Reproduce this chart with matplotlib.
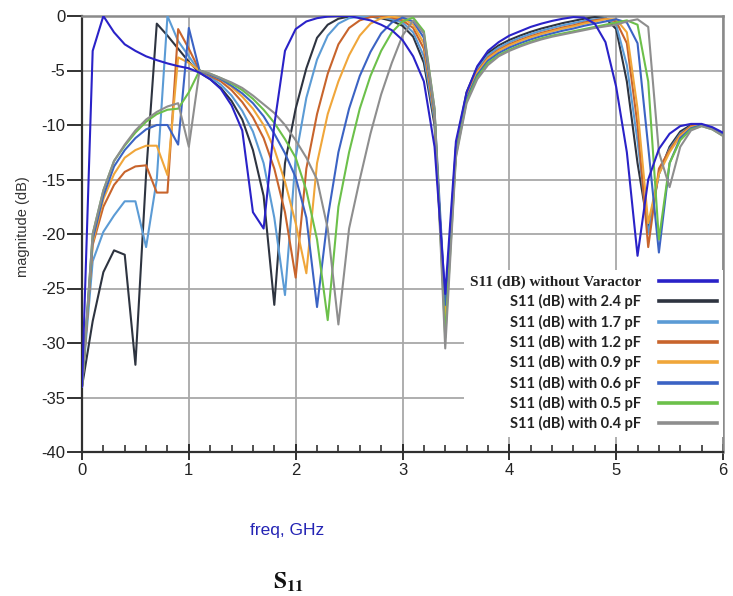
import numpy as np
import matplotlib
matplotlib.use("Agg")
import matplotlib.pyplot as plt
from matplotlib.ticker import MultipleLocator
from matplotlib.font_manager import FontProperties

plt.rcParams['axes.unicode_minus'] = False
plt.rcParams['mathtext.fontset'] = 'stix'
plt.rcParams['font.family'] = ['Liberation Sans', 'DejaVu Sans']

# frequency grid (GHz), 0.1 GHz simulation step
freq = np.round(np.linspace(0, 6, 61), 1)

s11_no_varactor = [
    -34.0, -3.2, 0.0, -1.5, -2.6, -3.2, -3.7, -4.05, -4.35, -4.6,
    -4.8, -5.2, -5.8, -6.7, -8.2, -10.5, -18.0, -19.5, -10.0, -3.2,
    -1.2, -0.5, -0.2, -0.05, 0.0, 0.0, -0.2, -0.4, -0.8, -1.3,
    -2.2, -3.7, -6.0, -12.0, -25.5, -11.5, -7.0, -4.6, -3.2, -2.4,
    -1.8, -1.4, -1.0, -0.7, -0.45, -0.25, -0.1, -0.15, -0.7, -2.4,
    -6.5, -12.5, -22.0, -15.0, -12.2, -10.8, -10.1, -9.9, -9.9, -10.2,
    -10.7]
s11_2p4 = [
    -34.0, -28.0, -23.5, -21.5, -21.9, -32.0, -14.5, -0.7, -1.8, -3.0,
    -4.2, -5.2, -5.8, -6.6, -7.8, -9.5, -12.3, -16.5, -26.5, -13.5,
    -8.5, -4.8, -2.0, -0.8, -0.25, -0.05, 0.0, -0.05, -0.2, -0.45,
    -0.9, -1.9, -4.3, -10.0, -27.0, -12.0, -7.0, -4.7, -3.4, -2.7,
    -2.2, -1.8, -1.45, -1.15, -0.9, -0.65, -0.45, -0.25, -0.1, -0.2,
    -1.2, -6.0, -13.5, -19.5, -14.5, -12.0, -10.6, -10.0, -10.0, -10.3,
    -10.9]
s11_1p7 = [
    -34.0, -22.5, -19.8, -18.3, -17.0, -17.0, -21.2, -15.0, 0.0, -2.3,
    -3.7, -5.1, -5.6, -6.3, -7.3, -8.7, -10.6, -13.5, -18.5, -25.6,
    -13.0, -7.5, -4.0, -1.8, -0.7, -0.2, -0.05, 0.0, -0.1, -0.3,
    -0.6, -1.5, -3.7, -9.6, -27.5, -12.2, -7.2, -4.9, -3.6, -2.9,
    -2.4, -2.0, -1.65, -1.35, -1.1, -0.85, -0.65, -0.45, -0.3, -0.2,
    -0.8, -4.5, -11.5, -20.0, -14.5, -12.2, -10.8, -10.1, -10.0, -10.3,
    -10.9]
s11_1p2 = [
    -34.0, -21.0, -17.5, -15.5, -14.3, -13.8, -13.7, -16.2, -16.2, -1.2,
    -3.0, -5.0, -5.5, -6.0, -6.8, -7.9, -9.3, -11.2, -14.0, -18.0,
    -24.0, -14.0, -9.0, -5.3, -2.6, -1.1, -0.4, -0.1, 0.0, -0.15,
    -0.4, -1.1, -3.0, -9.2, -28.0, -12.4, -7.4, -5.1, -3.8, -3.1,
    -2.6, -2.2, -1.85, -1.55, -1.3, -1.05, -0.85, -0.6, -0.4, -0.25,
    -0.5, -2.5, -10.0, -21.2, -14.0, -12.3, -10.9, -10.1, -10.0, -10.3,
    -10.9]
s11_0p9 = [
    -34.0, -20.8, -16.8, -14.5, -13.0, -12.3, -11.9, -11.9, -14.6, -3.8,
    -4.3, -5.0, -5.4, -5.8, -6.5, -7.4, -8.5, -10.0, -12.2, -15.2,
    -19.0, -23.6, -13.5, -9.0, -6.0, -3.6, -1.8, -0.7, -0.2, -0.05,
    -0.2, -0.8, -2.5, -9.0, -28.5, -12.5, -7.5, -5.2, -3.9, -3.2,
    -2.7, -2.3, -1.95, -1.65, -1.4, -1.15, -0.95, -0.7, -0.5, -0.3,
    -0.3, -1.5, -8.5, -19.0, -14.5, -12.5, -11.0, -10.2, -10.0, -10.3,
    -10.9]
s11_0p6 = [
    -34.0, -20.5, -16.5, -13.8, -12.3, -11.2, -10.4, -10.0, -10.0, -11.8,
    -1.1, -5.0, -5.4, -5.8, -6.4, -7.1, -8.0, -9.2, -10.8, -12.6,
    -14.8, -18.5, -26.7, -18.5, -12.5, -8.5, -5.5, -3.3, -1.6, -0.6,
    -0.15, -0.5, -2.0, -8.8, -26.5, -12.6, -7.6, -5.4, -4.1, -3.4,
    -2.9, -2.5, -2.15, -1.85, -1.6, -1.35, -1.15, -0.9, -0.7, -0.5,
    -0.3, -0.6, -2.5, -12.0, -21.7, -13.5, -11.2, -10.3, -10.0, -10.3,
    -10.9]
s11_0p5 = [
    -34.0, -20.0, -16.0, -13.3, -11.9, -10.7, -9.7, -9.0, -8.6, -8.5,
    -7.0, -5.0, -5.3, -5.7, -6.2, -6.8, -7.6, -8.6, -9.8, -11.3,
    -13.0, -16.0, -20.5, -27.9, -17.5, -12.5, -8.5, -5.5, -3.2, -1.5,
    -0.5, -0.15, -1.4, -8.5, -29.5, -12.8, -7.8, -5.6, -4.3, -3.6,
    -3.1, -2.7, -2.35, -2.05, -1.8, -1.6, -1.4, -1.2, -1.0, -0.8,
    -0.6, -0.4, -0.8, -6.0, -20.5, -13.5, -11.4, -10.4, -10.1, -10.4,
    -11.0]
s11_0p4 = [
    -34.0, -20.0, -16.0, -13.3, -11.8, -10.5, -9.5, -8.8, -8.3, -8.0,
    -12.0, -5.0, -5.3, -5.7, -6.1, -6.6, -7.3, -8.1, -8.9, -10.0,
    -11.4, -13.0, -15.0, -19.5, -28.3, -19.5, -15.0, -10.8, -7.2, -4.3,
    -1.8, -0.4, -1.6, -8.5, -30.5, -13.0, -8.0, -5.8, -4.5, -3.7,
    -3.2, -2.8, -2.45, -2.15, -1.9, -1.7, -1.5, -1.3, -1.1, -0.95,
    -0.8, -0.5, -0.3, -1.0, -12.5, -15.7, -12.0, -10.5, -10.1, -10.4,
    -11.0]

labels = ["S11 (dB) without Varactor", "S11 (dB) with 2.4 pF",
          "S11 (dB) with 1.7 pF", "S11 (dB) with 1.2 pF",
          "S11 (dB) with 0.9 pF", "S11 (dB) with 0.6 pF",
          "S11 (dB) with 0.5 pF", "S11 (dB) with 0.4 pF"]
series = [s11_no_varactor, s11_2p4, s11_1p7, s11_1p2,
          s11_0p9, s11_0p6, s11_0p5, s11_0p4]
colors = ["#2a22c8", "#2e3440", "#5b9bd5", "#c8642c",
          "#f0a63a", "#3b63c4", "#6cc04a", "#8e8e8e"]

fig = plt.figure(figsize=(7.33, 5.96), dpi=100)
ax = fig.add_axes([82 / 733, 1 - 452 / 596, 641 / 733, 436 / 596])

handles = [None] * len(series)
for i in list(range(1, len(series))) + [0]:
    (h,) = ax.plot(freq, series[i], color=colors[i], lw=1.5,
                   zorder=4 if i == 0 else 3, label=labels[i])
    handles[i] = h

ax.set_xlim(0, 6)
ax.set_ylim(-40, 0)
ax.xaxis.set_major_locator(MultipleLocator(1))
ax.xaxis.set_minor_locator(MultipleLocator(0.2))
ax.yaxis.set_major_locator(MultipleLocator(5))
ax.grid(True, which='major', color='#a8a8a8', linewidth=1.3, zorder=1)
ax.set_axisbelow(True)

ax.tick_params(axis='x', which='major', direction='inout', length=12,
               width=1.3, pad=2, labelsize=12, colors='#222222')
ax.tick_params(axis='x', which='minor', direction='in', length=5,
               width=1.2, colors='#333333')
ax.tick_params(axis='y', which='major', direction='out', length=11,
               width=1.3, pad=1, labelsize=12, colors='#222222')

for side in ('left', 'bottom'):
    ax.spines[side].set_color('#303030')
    ax.spines[side].set_linewidth(1.6)
for side in ('top', 'right'):
    ax.spines[side].set_color('#8a8a8a')
    ax.spines[side].set_linewidth(1.8)

ax.set_ylabel('magnitude (dB)', fontsize=10.5, color='#333333')
ax.yaxis.set_label_coords(-0.081, 0.516)

fig.text(287 / 733, 1 - 530 / 596, 'freq, GHz', fontsize=12.5,
         color='#2424b4', ha='center', va='center')
fig.text(289 / 733, 1 - 582 / 596, r'$\mathbf{S}_{\mathbf{11}}$',
         fontsize=17, color='#111111', ha='center', va='center')

leg = ax.legend(handles, labels, loc='lower right',
                bbox_to_anchor=(1.0, 0.034), markerfirst=False,
                frameon=True, fancybox=False, facecolor='white',
                edgecolor='none', framealpha=1,
                prop=FontProperties(family='Lato', weight='bold', size=10.5),
                handlelength=4.0, handletextpad=1.2, labelspacing=0.36,
                borderpad=0.4, borderaxespad=0)
leg.set_zorder(10)
for t in leg.get_texts():
    t.set_color('#222222')
leg.get_texts()[0].set_fontproperties(
    FontProperties(family='Liberation Serif', weight='bold', size=11))
for ln in leg.get_lines():
    ln.set_linewidth(2.6)

fig.savefig('out.png', dpi=100)
